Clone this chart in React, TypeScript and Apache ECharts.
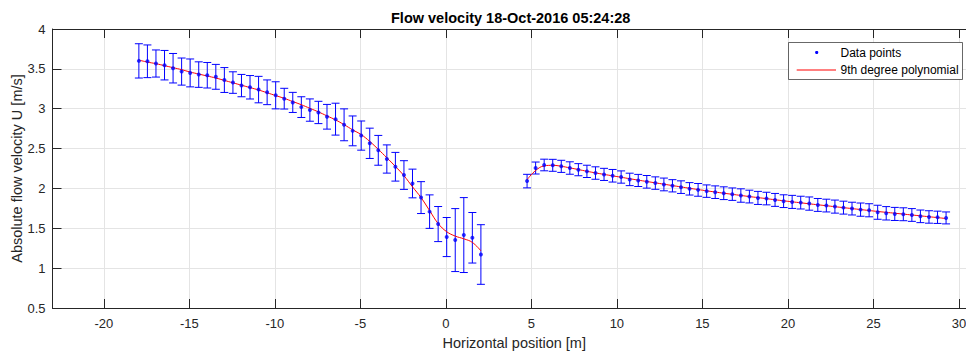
import React, { useEffect, useRef } from "react";
import * as echarts from "echarts";

const TITLE = "Flow velocity 18-Oct-2016 05:24:28";
const X_NAME = "Horizontal position [m]";
const Y_NAME = "Absolute flow velocity U [m/s]";
const LEGEND_POINTS = "Data points";
const LEGEND_FIT = "9th degree polynomial";

const xTicks = [-20, -15, -10, -5, 0, 5, 10, 15, 20, 25, 30];

const leftX = [-17.95, -17.45, -16.95, -16.45, -15.95, -15.45, -14.95, -14.45, -13.95, -13.45, -12.95, -12.45, -11.95, -11.45, -10.95, -10.45, -9.95, -9.45, -8.95, -8.45, -7.95, -7.45, -6.95, -6.45, -5.95, -5.45, -4.95, -4.45, -3.95, -3.45, -2.95, -2.45, -1.95, -1.45, -0.95, -0.45, 0.05, 0.55, 1.05, 1.55, 2.05];
const leftY = [3.6, 3.595, 3.567, 3.546, 3.508, 3.466, 3.449, 3.428, 3.42, 3.4, 3.36, 3.328, 3.29, 3.269, 3.24, 3.206, 3.168, 3.126, 3.079, 3.02, 2.983, 2.953, 2.899, 2.869, 2.798, 2.722, 2.663, 2.566, 2.478, 2.369, 2.272, 2.168, 2.062, 1.885, 1.709, 1.553, 1.39, 1.352, 1.415, 1.381, 1.171];
const leftErr = [0.215, 0.205, 0.17, 0.185, 0.185, 0.17, 0.175, 0.16, 0.16, 0.156, 0.156, 0.135, 0.14, 0.147, 0.166, 0.155, 0.17, 0.13, 0.126, 0.13, 0.14, 0.14, 0.155, 0.2, 0.2, 0.187, 0.183, 0.19, 0.187, 0.177, 0.18, 0.18, 0.18, 0.2, 0.21, 0.22, 0.245, 0.395, 0.47, 0.317, 0.374];
const leftFit = [3.61, 3.585, 3.565, 3.54, 3.515, 3.49, 3.46, 3.435, 3.41, 3.385, 3.355, 3.325, 3.295, 3.265, 3.235, 3.2, 3.165, 3.13, 3.09, 3.05, 3.005, 2.96, 2.91, 2.86, 2.8, 2.735, 2.675, 2.59, 2.49, 2.385, 2.276, 2.16, 2.02, 1.885, 1.722, 1.56, 1.457, 1.402, 1.368, 1.323, 1.217];

const rightX = [4.75, 5.25, 5.75, 6.25, 6.75, 7.25, 7.75, 8.25, 8.75, 9.25, 9.75, 10.25, 10.75, 11.25, 11.75, 12.25, 12.75, 13.25, 13.75, 14.25, 14.75, 15.25, 15.75, 16.25, 16.75, 17.25, 17.75, 18.25, 18.75, 19.25, 19.75, 20.25, 20.75, 21.25, 21.75, 22.25, 22.75, 23.25, 23.75, 24.25, 24.75, 25.25, 25.75, 26.25, 26.75, 27.25, 27.75, 28.25, 28.75, 29.25];
const rightY = [2.092, 2.256, 2.294, 2.29, 2.277, 2.256, 2.235, 2.214, 2.193, 2.176, 2.159, 2.143, 2.113, 2.1, 2.083, 2.067, 2.05, 2.033, 2.016, 1.995, 1.982, 1.966, 1.953, 1.94, 1.928, 1.911, 1.898, 1.881, 1.873, 1.856, 1.84, 1.831, 1.822, 1.81, 1.793, 1.785, 1.772, 1.759, 1.747, 1.734, 1.726, 1.701, 1.688, 1.68, 1.676, 1.667, 1.65, 1.642, 1.638, 1.63];
const rightErr = [0.085, 0.075, 0.073, 0.075, 0.076, 0.078, 0.076, 0.077, 0.078, 0.076, 0.079, 0.077, 0.078, 0.076, 0.079, 0.078, 0.08, 0.077, 0.079, 0.078, 0.08, 0.078, 0.079, 0.08, 0.078, 0.084, 0.08, 0.082, 0.079, 0.081, 0.08, 0.082, 0.08, 0.083, 0.081, 0.08, 0.082, 0.081, 0.08, 0.083, 0.082, 0.088, 0.084, 0.082, 0.081, 0.08, 0.079, 0.078, 0.077, 0.075];
const rightFit = [2.11, 2.225, 2.283, 2.29, 2.278, 2.258, 2.237, 2.215, 2.195, 2.176, 2.158, 2.14, 2.122, 2.104, 2.087, 2.07, 2.053, 2.036, 2.019, 2.002, 1.986, 1.97, 1.955, 1.94, 1.926, 1.912, 1.898, 1.885, 1.872, 1.858, 1.845, 1.832, 1.82, 1.807, 1.795, 1.783, 1.771, 1.759, 1.747, 1.735, 1.723, 1.711, 1.7, 1.689, 1.678, 1.667, 1.656, 1.645, 1.634, 1.622];

const FONT = "Liberation Sans, Arial, Helvetica, sans-serif";
const AXIS_COLOR = "#262626";
const GRID_COLOR = "#e4e4e4";

export default function App() {
  const ref = useRef<HTMLDivElement>(null);

  useEffect(() => {
    if (!ref.current) return;
    const chart = echarts.init(ref.current, undefined, { renderer: "svg" });

    const pointData = [
      ...leftX.map((x, i) => [x, leftY[i], leftErr[i]]),
      ...rightX.map((x, i) => [x, rightY[i], rightErr[i]]),
    ];
    const fitLeft = leftX.map((x, i) => [x, leftFit[i]]);
    const fitRight = rightX.map((x, i) => [x, rightFit[i]]);

    const errorRender = (params: any, api: any) => {
      const x = api.value(0);
      const y = api.value(1);
      const e = api.value(2);
      const top = api.coord([x, y + e]);
      const bot = api.coord([x, y - e]);
      const hw = 4;
      const style = { stroke: "#0000ff", lineWidth: 1 };
      return {
        type: "group",
        children: [
          { type: "line", shape: { x1: top[0], y1: top[1], x2: bot[0], y2: bot[1] }, style },
          { type: "line", shape: { x1: top[0] - hw, y1: top[1], x2: top[0] + hw, y2: top[1] }, style },
          { type: "line", shape: { x1: bot[0] - hw, y1: bot[1], x2: bot[0] + hw, y2: bot[1] }, style },
        ],
      };
    };

    const axisCommon = {
      type: "value",
      axisLine: { show: true, onZero: false, lineStyle: { color: AXIS_COLOR, width: 1 } },
    };

    const option: any = {
      animation: false,
      backgroundColor: "#ffffff",
      title: {
        text: TITLE,
        left: 391,
        top: 10,
        padding: 0,
        textStyle: { fontSize: 14.5, fontWeight: "bold", color: "#000000", fontFamily: FONT },
      },
      grid: { left: 52.5, right: -10, top: 29, bottom: 46, containLabel: false, outerBoundsMode: "none" },
      xAxis: [
        {
          ...axisCommon,
          position: "bottom",
          min: -23,
          max: 31,
          axisTick: { show: true, inside: true, length: 9, customValues: xTicks, lineStyle: { color: AXIS_COLOR } },
          axisLabel: { show: true, customValues: xTicks, color: AXIS_COLOR, fontSize: 13, fontFamily: FONT, margin: 9 },
          splitLine: { show: true, lineStyle: { color: GRID_COLOR, width: 1 } },
          name: X_NAME,
          nameLocation: "middle",
          nameGap: 27,
          nameMoveOverlap: false,
          nameTextStyle: { fontSize: 14.5, color: AXIS_COLOR, fontFamily: FONT },
        },
        {
          ...axisCommon,
          position: "top",
          min: -23,
          max: 31,
          axisTick: { show: true, inside: true, length: 9, customValues: xTicks, lineStyle: { color: AXIS_COLOR } },
          axisLabel: { show: false },
          splitLine: { show: false },
        },
      ],
      yAxis: [
        {
          ...axisCommon,
          position: "left",
          min: 0.5,
          max: 4,
          interval: 0.5,
          axisTick: { show: true, inside: true, length: 9, lineStyle: { color: AXIS_COLOR } },
          axisLabel: { show: true, color: AXIS_COLOR, fontSize: 13, fontFamily: FONT, margin: 7 },
          splitLine: { show: true, lineStyle: { color: GRID_COLOR, width: 1 } },
          name: Y_NAME,
          nameLocation: "middle",
          nameGap: 28,
          nameMoveOverlap: false,
          nameTextStyle: { fontSize: 14.5, color: AXIS_COLOR, fontFamily: FONT },
        },
        {
          ...axisCommon,
          position: "right",
          min: 0.5,
          max: 4,
          interval: 0.5,
          axisTick: { show: true, inside: true, length: 9, lineStyle: { color: AXIS_COLOR } },
          axisLabel: { show: false },
          splitLine: { show: false },
        },
      ],
      series: [
        {
          name: "errorbars",
          type: "custom",
          renderItem: errorRender,
          data: pointData,
          encode: { x: 0, y: 1 },
          z: 2,
          silent: true,
        },
        {
          name: LEGEND_FIT,
          type: "line",
          data: fitLeft,
          smooth: 0.4,
          symbol: "none",
          lineStyle: { color: "#ff0000", width: 1 },
          z: 3,
          silent: true,
        },
        {
          name: LEGEND_FIT,
          type: "line",
          data: fitRight,
          smooth: 0.4,
          symbol: "none",
          lineStyle: { color: "#ff0000", width: 1 },
          z: 3,
          silent: true,
        },
        {
          name: LEGEND_POINTS,
          type: "scatter",
          data: pointData.map((d) => [d[0], d[1]]),
          symbol: "circle",
          symbolSize: 4,
          itemStyle: { color: "#0000ff" },
          z: 4,
          silent: true,
        },
      ],
      graphic: [
        {
          type: "rect",
          z: 100,
          shape: { x: 788.5, y: 42.5, width: 174, height: 37 },
          style: { fill: "#ffffff", stroke: AXIS_COLOR, lineWidth: 0.7 },
        },
        { type: "circle", z: 101, shape: { cx: 816.7, cy: 52.5, r: 1.6 }, style: { fill: "#0000ff" } },
        {
          type: "line",
          z: 101,
          shape: { x1: 796.7, y1: 70, x2: 836, y2: 70 },
          style: { stroke: "#ff0000", lineWidth: 1 },
        },
        {
          type: "text",
          z: 101,
          x: 840.5,
          y: 52.5,
          style: { text: LEGEND_POINTS, fill: "#000000", fontSize: 12, fontFamily: FONT, verticalAlign: "middle" },
        },
        {
          type: "text",
          z: 101,
          x: 840.5,
          y: 69.5,
          style: { text: LEGEND_FIT, fill: "#000000", fontSize: 12, fontFamily: FONT, verticalAlign: "middle" },
        },
      ],
    };

    chart.setOption(option);
    return () => chart.dispose();
  }, []);

  return (
    <div
      ref={ref}
      style={{ position: "fixed", left: 0, top: 0, width: 966, height: 354, overflow: "hidden" }}
    />
  );
}
